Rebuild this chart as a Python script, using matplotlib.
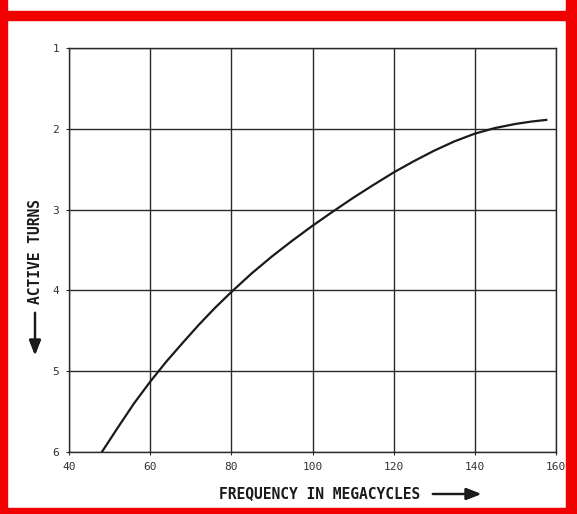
import matplotlib
matplotlib.use("Agg")
import matplotlib.pyplot as plt
from matplotlib.patches import Rectangle

# valores
frecuencia = [48.1, 52, 56, 60, 64, 68, 72, 76, 80, 85, 90, 95, 100, 105,
              110, 115, 120, 125, 130, 135, 140, 145, 150, 154, 157.6]
vueltas = [6.0, 5.70, 5.40, 5.13, 4.88, 4.65, 4.425, 4.215, 4.02, 3.79, 3.58, 3.385, 3.20, 3.025,
           2.855, 2.695, 2.54, 2.40, 2.27, 2.155, 2.06, 1.99, 1.94, 1.91, 1.89]

xticks = [40, 60, 80, 100, 120, 140, 160]
xlabels = ["40", "60", "80", "100", "120", "140", "160"]
yticks = [1, 2, 3, 4, 5, 6]
ylabels = ["1", "2", "3", "4", "5", "6"]

W, H = 577, 514
fig = plt.figure(figsize=(W / 100, H / 100), dpi=100)
fig.patch.set_facecolor("white")

# marco rojo alrededor
rojo = "#f00000"
for (x0, y0, w, h) in [(0, 0, 7, 514), (0, 11, 577, 9), (566, 0, 11, 514), (0, 508, 577, 6)]:
    fig.patches.append(Rectangle((x0 / W, 1 - (y0 + h) / H), w / W, h / H,
                                 transform=fig.transFigure, color=rojo, zorder=0))

ax = fig.add_axes([69 / W, 1 - 452 / H, (556 - 69) / W, (452 - 48) / H])
ax.plot(frecuencia, vueltas, color="#1a1a1a", linewidth=1.6, solid_joinstyle="round")

ax.set_xlim(40, 160)
ax.set_ylim(6, 1)
ax.set_xticks(xticks)
ax.set_xticklabels(xlabels)
ax.set_yticks(yticks)
ax.set_yticklabels(ylabels)
ax.grid(True, color="#2a2a2a", linewidth=1.0)
for s in ax.spines.values():
    s.set_color("#2a2a2a")
    s.set_linewidth(1.0)
ax.tick_params(length=2, width=0.8, color="#2a2a2a", labelsize=8, pad=5,
               labelcolor="#333333")
for t in ax.get_xticklabels() + ax.get_yticklabels():
    t.set_family("DejaVu Sans Mono")

fuente = dict(family="DejaVu Sans Mono", weight="bold", fontsize=10.5, color="#1a1a1a")
fig.text(320 / W, 1 - 494 / H, "FREQUENCY IN MEGACYCLES", ha="center", va="center", **fuente)
fig.text(35 / W, 1 - 252 / H, "ACTIVE TURNS", ha="center", va="center", rotation=90, **fuente)

flecha = dict(arrowstyle="-|>,head_length=0.9,head_width=0.35", color="#1a1a1a", lw=1.6)
fig.add_artist(plt.annotate("", xy=(484 / W, 1 - 494 / H), xytext=(430 / W, 1 - 494 / H),
                            xycoords="figure fraction", arrowprops=flecha))
fig.add_artist(plt.annotate("", xy=(35 / W, 1 - 358 / H), xytext=(35 / W, 1 - 310 / H),
                            xycoords="figure fraction", arrowprops=flecha))

fig.savefig("out.png", dpi=100, facecolor="white")
